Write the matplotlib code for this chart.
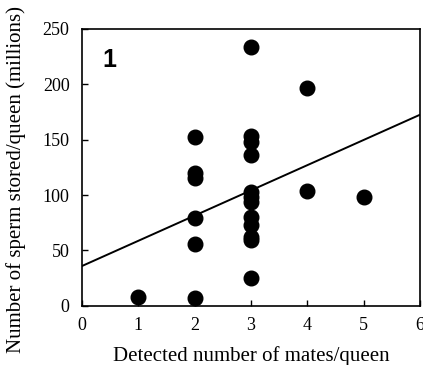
import numpy as np
import matplotlib
matplotlib.use('Agg')
import matplotlib.pyplot as plt

# Data
mates = [1, 2, 2, 2, 2, 2, 2,
         3, 3, 3, 3, 3, 3, 3, 3, 3, 3, 3, 3,
         4, 4, 5]
sperm = [8, 7, 56, 79, 115, 120, 152,
         234, 153, 148, 136, 103, 98, 94, 80, 73, 62, 59, 25,
         197, 104, 98]

# Fitted regression line end points
fit_x = [0, 6]
fit_y = [36, 172.5]

plt.rcParams['font.family'] = ['Liberation Serif', 'DejaVu Serif']

fig = plt.figure(figsize=(4.23, 3.65), dpi=100)
ax = fig.add_axes([0.194, 0.162, 0.799, 0.759])

ax.plot(fit_x, fit_y, color='black', lw=1.4, zorder=2)
ax.plot(mates, sperm, 'o', color='black', markersize=10.5, zorder=3)

ax.set_xlim(0, 6)
ax.set_ylim(0, 250)
ax.set_xticks(range(0, 7))
ax.set_yticks(range(0, 251, 50))
ax.tick_params(direction='in', length=4, width=1, labelsize=13)
ax.tick_params(axis='y', pad=9)
ax.tick_params(axis='x', pad=8)

for s in ax.spines.values():
    s.set_linewidth(1.2)

ax.set_xlabel('Detected number of mates/queen', fontsize=15, labelpad=9)
ax.set_ylabel('Number of sperm stored/queen (millions)', fontsize=15)
ax.yaxis.set_label_coords(-0.165, 0.455)

ax.text(0.06, 0.93, '1', transform=ax.transAxes, fontsize=18, fontweight='bold',
        family='Liberation Sans', va='top', ha='left')

fig.savefig('out.png', dpi=100)
